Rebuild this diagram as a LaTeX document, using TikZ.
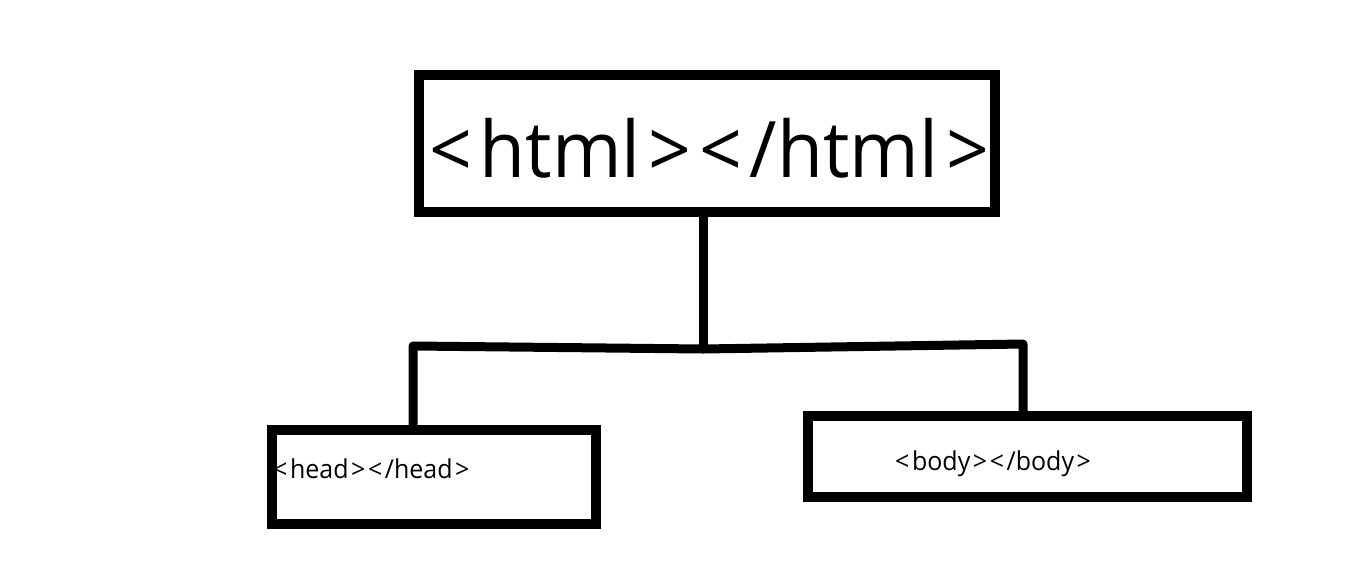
\documentclass[tikz,border=0pt]{standalone}
\usepackage{fontspec}
\setmainfont{Open Sans}
\newfontfamily\tagfont[FakeStretch=0.96]{Open Sans}
\newcommand\gp{\kern0.1em}
\newcommand\tagtext[1]{\tagfont <\gp#1\gp>\gp<\gp/#1\gp>}
\begin{document}
\begin{tikzpicture}[x=1pt,y=-1pt,
  box/.style={draw=black,line width=10pt,inner sep=0pt,fill=none},
  conn/.style={draw=black,line width=9pt,line cap=round,line join=round},
  lbl/.style={inner sep=0pt,anchor=base west,text=black}]
\useasboundingbox[fill=white] (0,0) rectangle (1350,570);
% boxes
\node[box,minimum width=576pt,minimum height=137pt] (html) at (707,143.5) {};
\node[box,minimum width=324pt,minimum height=94pt] (head) at (434,476.5) {};
\node[box,minimum width=439pt,minimum height=81pt] (body) at (1027.5,456.5) {};
% labels
\node[inner sep=0pt,anchor=base west,font=\fontsize{78}{94}\selectfont] (thtml) at (429,177) {\tagtext{html}};
\node[lbl,font=\fontsize{26}{31}\selectfont] (thead) at (273,478) {\tagtext{head}};
\node[lbl,font=\fontsize{26}{31}\selectfont] (tbody) at (895,470) {\tagtext{body}};
% connectors
\coordinate (jl) at (413,346);
\coordinate (jm) at (703,349);
\coordinate (jr) at (1023,344);
\draw[conn] (html.south -| jm) -- (jm);
\draw[conn] (head.north -| jl) -- (jl) -- (jm) -- (jr) -- (body.north -| jr);
\end{tikzpicture}
\end{document}
